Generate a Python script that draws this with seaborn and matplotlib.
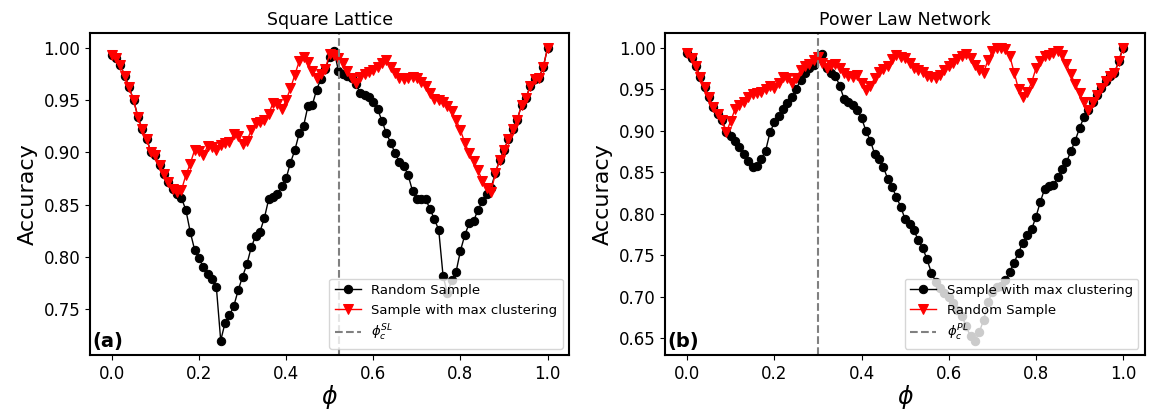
import numpy as np
import seaborn as sns
import matplotlib
matplotlib.use("Agg")
import matplotlib.pyplot as plt

# fraction of sampled nodes
phi = np.round(np.arange(0, 101) * 0.01, 2)

# Square lattice
sl_random = [0.993, 0.990, 0.983, 0.973, 0.962, 0.950, 0.934, 0.922, 0.913, 0.900,
             0.897, 0.888, 0.879, 0.872, 0.865, 0.860, 0.856, 0.845, 0.824, 0.807,
             0.799, 0.790, 0.784, 0.779, 0.771, 0.720, 0.737, 0.744, 0.753, 0.768,
             0.781, 0.793, 0.809, 0.820, 0.824, 0.837, 0.855, 0.857, 0.860, 0.868,
             0.875, 0.890, 0.902, 0.918, 0.925, 0.944, 0.945, 0.960, 0.970, 0.980,
             0.991, 0.997, 0.978, 0.975, 0.973, 0.971, 0.965, 0.957, 0.955, 0.953,
             0.948, 0.941, 0.930, 0.918, 0.909, 0.899, 0.891, 0.887, 0.878, 0.863,
             0.855, 0.855, 0.855, 0.846, 0.836, 0.826, 0.782, 0.765, 0.778, 0.786,
             0.806, 0.821, 0.832, 0.834, 0.845, 0.853, 0.860, 0.866, 0.880, 0.893,
             0.902, 0.913, 0.922, 0.931, 0.945, 0.952, 0.963, 0.970, 0.971, 0.982,
             1.000]
sl_cluster = [0.993, 0.990, 0.983, 0.973, 0.962, 0.950, 0.934, 0.922, 0.913, 0.900,
              0.897, 0.888, 0.879, 0.872, 0.865, 0.862, 0.864, 0.878, 0.889, 0.902,
              0.901, 0.897, 0.906, 0.905, 0.902, 0.907, 0.909, 0.910, 0.917, 0.916,
              0.908, 0.911, 0.921, 0.928, 0.929, 0.931, 0.937, 0.947, 0.946, 0.941,
              0.950, 0.961, 0.974, 0.987, 0.991, 0.986, 0.978, 0.971, 0.975, 0.980,
              0.994, 0.993, 0.990, 0.985, 0.978, 0.971, 0.966, 0.972, 0.975, 0.977,
              0.979, 0.982, 0.985, 0.988, 0.982, 0.976, 0.971, 0.970, 0.971, 0.972,
              0.971, 0.967, 0.963, 0.957, 0.951, 0.950, 0.948, 0.944, 0.939, 0.931,
              0.921, 0.909, 0.899, 0.892, 0.883, 0.873, 0.866, 0.862, 0.880, 0.893,
              0.902, 0.913, 0.922, 0.931, 0.945, 0.952, 0.963, 0.970, 0.971, 0.982,
              1.000]

# Power law network
pl_cluster = [0.993, 0.988, 0.978, 0.965, 0.953, 0.940, 0.929, 0.920, 0.913, 0.898,
              0.894, 0.888, 0.880, 0.872, 0.863, 0.856, 0.857, 0.866, 0.876, 0.898,
              0.910, 0.918, 0.926, 0.933, 0.940, 0.950, 0.961, 0.969, 0.975, 0.979,
              0.987, 0.992, 0.975, 0.969, 0.966, 0.954, 0.938, 0.935, 0.931, 0.925,
              0.915, 0.900, 0.888, 0.872, 0.866, 0.856, 0.842, 0.832, 0.820, 0.808,
              0.793, 0.787, 0.780, 0.768, 0.759, 0.745, 0.729, 0.718, 0.710, 0.704,
              0.699, 0.692, 0.684, 0.677, 0.664, 0.652, 0.647, 0.657, 0.672, 0.693,
              0.706, 0.711, 0.713, 0.720, 0.730, 0.741, 0.753, 0.765, 0.774, 0.781,
              0.796, 0.814, 0.830, 0.833, 0.834, 0.844, 0.854, 0.862, 0.875, 0.888,
              0.903, 0.916, 0.925, 0.934, 0.943, 0.952, 0.960, 0.966, 0.969, 0.984,
              1.000]
pl_random = [0.993, 0.988, 0.978, 0.965, 0.953, 0.940, 0.929, 0.920, 0.913, 0.898,
             0.912, 0.926, 0.931, 0.935, 0.941, 0.944, 0.945, 0.946, 0.950, 0.954,
             0.952, 0.958, 0.965, 0.963, 0.958, 0.963, 0.973, 0.978, 0.980, 0.985,
             0.989, 0.982, 0.976, 0.979, 0.980, 0.976, 0.970, 0.966, 0.965, 0.967,
             0.958, 0.949, 0.954, 0.963, 0.971, 0.974, 0.978, 0.986, 0.991, 0.989,
             0.987, 0.981, 0.975, 0.973, 0.971, 0.966, 0.965, 0.963, 0.967, 0.973,
             0.978, 0.982, 0.986, 0.990, 0.992, 0.988, 0.979, 0.973, 0.970, 0.985,
             0.996, 1.000, 1.000, 0.999, 0.990, 0.970, 0.950, 0.941, 0.946, 0.958,
             0.975, 0.984, 0.990, 0.991, 0.993, 0.996, 0.991, 0.980, 0.968, 0.956,
             0.945, 0.934, 0.925, 0.934, 0.943, 0.952, 0.960, 0.966, 0.969, 0.984,
             1.000]

phi_c_sl = 0.522
phi_c_pl = 0.30

fig, (ax1, ax2) = plt.subplots(1, 2, figsize=(11.53, 4.13), dpi=100)
fig.subplots_adjust(left=0.078, right=0.993, bottom=0.14, top=0.92, wspace=0.2)

# (a) square lattice
sns.lineplot(x=phi, y=sl_random, ax=ax1, color="black", marker="o", markersize=6,
             markeredgecolor="black", linewidth=1, estimator=None, label="Random Sample")
sns.lineplot(x=phi, y=sl_cluster, ax=ax1, color="red", marker="v", markersize=7,
             markeredgecolor="red", linewidth=1, estimator=None,
             label="Sample with max clustering")
ax1.axvline(phi_c_sl, color="grey", linestyle="--", linewidth=1.5, label=r"$\phi_c^{SL}$")
ax1.set_title("Square Lattice", fontsize=12.5)
ax1.text(0.005, 0.025, "(a)", transform=ax1.transAxes, fontsize=14, fontweight="bold")

# (b) power law network
sns.lineplot(x=phi, y=pl_cluster, ax=ax2, color="black", marker="o", markersize=6,
             markeredgecolor="black", linewidth=1, estimator=None,
             label="Sample with max clustering")
sns.lineplot(x=phi, y=pl_random, ax=ax2, color="red", marker="v", markersize=7,
             markeredgecolor="red", linewidth=1, estimator=None, label="Random Sample")
ax2.axvline(phi_c_pl, color="grey", linestyle="--", linewidth=1.5, label=r"$\phi_c^{PL}$")
ax2.set_title("Power Law Network", fontsize=12.5)
ax2.text(0.005, 0.025, "(b)", transform=ax2.transAxes, fontsize=14, fontweight="bold")

for ax in (ax1, ax2):
    ax.set_xlabel(r"$\phi$", fontsize=17, labelpad=0)
    ax.set_ylabel("Accuracy", fontsize=16)
    ax.tick_params(labelsize=12)
    ax.legend(loc="lower right", fontsize=9.5)
    for s in ax.spines.values():
        s.set_linewidth(1.5)

plt.savefig("out.png", dpi=100)
